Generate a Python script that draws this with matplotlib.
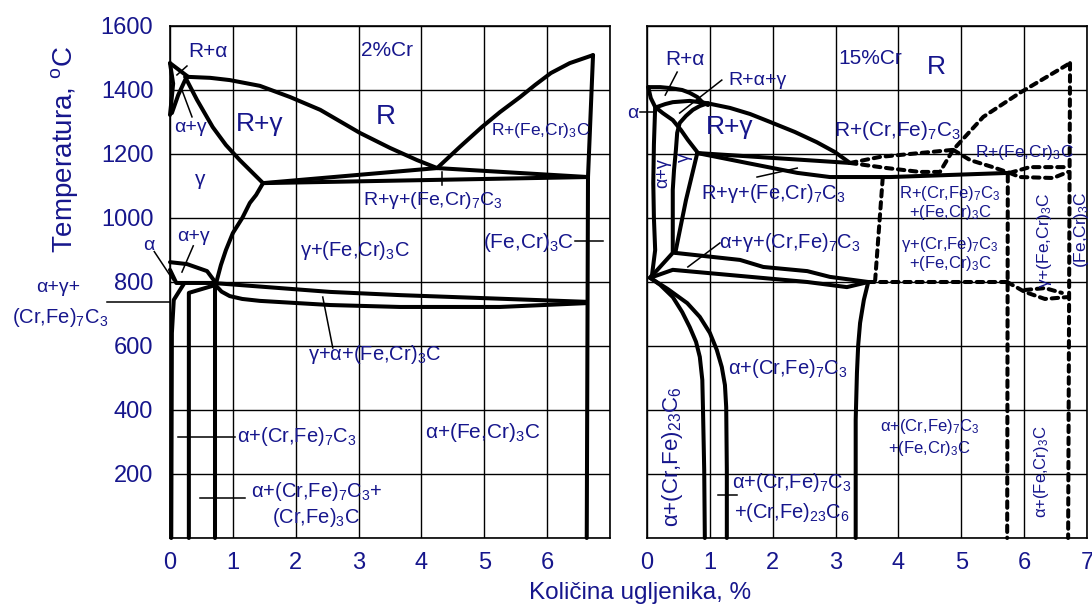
import matplotlib
matplotlib.use('Agg')
import matplotlib.pyplot as plt

plt.rcParams['font.family'] = ['Liberation Sans', 'DejaVu Sans']
plt.rcParams['mathtext.fontset'] = 'custom'
plt.rcParams['mathtext.rm'] = 'Liberation Sans'
plt.rcParams['mathtext.default'] = 'regular'

BLUE = '#16168c'

# ---------- 2% Cr section (left panel) ----------
l_liq_x = [0.29, 0.64, 0.95, 1.43, 1.91, 2.39, 3.02, 3.50, 3.93, 4.25]
l_liq_y = [1441, 1438, 1431, 1413, 1378, 1338, 1266, 1219, 1181, 1156]
l_liq2_x = [4.25, 4.61, 4.96, 5.25, 5.57, 5.81, 6.06, 6.36, 6.73]
l_liq2_y = [1156, 1222, 1284, 1331, 1378, 1416, 1453, 1484, 1509]
l_cem_x = [6.73, 6.65, 6.63]
l_cem_y = [1509, 1128, 0]
l_eut_a_x = [1.48, 4.25]
l_eut_a_y = [1109, 1156]
l_eut_b_x = [1.48, 6.65]
l_eut_b_y = [1109, 1128]
l_eut_c_x = [4.25, 6.65]
l_eut_c_y = [1156, 1128]
l_sol_x = [0.24, 0.43, 0.68, 0.89, 1.11, 1.30, 1.48]
l_sol_y = [1441, 1369, 1284, 1228, 1181, 1144, 1109]
l_d1_x = [0.0, 0.29]
l_d1_y = [1484, 1441]
l_d2_x = [0.0, 0.05, 0.02, 0.0]
l_d2_y = [1484, 1420, 1360, 1322]
l_d3_x = [0.24, 0.13, 0.03]
l_d3_y = [1431, 1384, 1328]
l_acm_x = [1.48, 1.37, 1.27, 1.15, 1.00, 0.89, 0.81, 0.73]
l_acm_y = [1109, 1072, 1047, 1000, 953, 900, 853, 794]
l_a3_x = [0.0, 0.27, 0.59, 0.73]
l_a3_y = [862, 856, 834, 797]
l_a_x = [0.0, 0.10, 0.73]
l_a_y = [838, 797, 797]
l_v1_x = [0.02, 0.03, 0.06, 0.13, 0.22]
l_v1_y = [0, 641, 744, 766, 794]
l_v2_x = [0.30, 0.30, 0.73]
l_v2_y = [0, 766, 791]
l_v3_x = [0.72, 0.72]
l_v3_y = [0, 797]
l_eu_up_x = [0.68, 2.55, 3.66, 6.63]
l_eu_up_y = [797, 769, 759, 738]
l_eu_lo_x = [0.72, 0.82, 0.95, 1.15, 1.43, 2.55, 3.66, 5.25, 6.63]
l_eu_lo_y = [791, 770, 756, 747, 741, 728, 722, 722, 734]

# ---------- 15% Cr section (right panel) ----------
r_liq_x = [0.16, 0.29, 0.41, 0.68, 0.95, 1.32, 1.64, 1.96, 2.35, 2.70, 2.99, 3.23]
r_liq_y = [1347, 1356, 1362, 1366, 1359, 1344, 1325, 1300, 1269, 1237, 1206, 1172]
r_ra_x = [0.02, 0.21, 0.37, 0.56, 0.68, 0.80, 0.88, 0.97]
r_ra_y = [1409, 1409, 1406, 1400, 1391, 1378, 1362, 1353]
r_ag_x = [0.02, 0.06, 0.13, 0.25, 0.41, 0.54, 0.65, 0.80]
r_ag_y = [1409, 1375, 1347, 1328, 1306, 1275, 1244, 1206]
r_al_x = [0.13, 0.11, 0.10, 0.11, 0.13, 0.08, 0.05]
r_al_y = [1347, 1230, 1109, 1000, 900, 822, 813]
r_gl_x = [0.97, 0.84, 0.73, 0.62, 0.52, 0.48, 0.46, 0.43, 0.41, 0.41, 0.05]
r_gl_y = [1359, 1350, 1338, 1319, 1297, 1266, 1213, 1150, 1088, 891, 813]
r_gr_x = [0.80, 0.62, 0.45]
r_gr_y = [1203, 1056, 891]
r_eut_up_x = [0.80, 3.23]
r_eut_up_y = [1203, 1172]
r_eut_lo_x = [0.80, 1.59, 2.39, 2.91, 3.87, 5.77]
r_eut_lo_y = [1203, 1172, 1141, 1128, 1128, 1141]
r_eu_up_x = [0.45, 1.48, 1.85, 2.55, 2.91, 3.52]
r_eu_up_y = [891, 869, 847, 834, 816, 800]
r_eu_lo_x = [0.05, 0.41, 1.48, 2.55, 3.18, 3.52]
r_eu_lo_y = [813, 838, 819, 800, 784, 800]
r_c7_x = [3.52, 3.45, 3.39, 3.36, 3.34, 3.32, 3.32]
r_c7_y = [800, 744, 672, 603, 516, 369, 0]
r_c23a_x = [0.05, 0.21, 0.41, 0.56, 0.68, 0.78, 0.84, 0.88, 0.89, 0.91, 0.92]
r_c23a_y = [813, 791, 753, 706, 659, 613, 566, 494, 409, 213, 0]
r_c23b_x = [0.05, 0.33, 0.64, 0.84, 1.00, 1.11, 1.19, 1.24, 1.26, 1.27, 1.27]
r_c23b_y = [813, 778, 734, 691, 641, 588, 534, 478, 409, 213, 0]

r_dash = [
    ([3.23, 3.71, 4.34, 4.87, 5.35, 5.93, 6.73], [1172, 1191, 1203, 1213, 1316, 1391, 1484]),
    ([3.23, 3.82, 4.34, 4.66, 4.87], [1172, 1156, 1144, 1144, 1213]),
    ([4.87, 5.14, 5.50, 5.77], [1213, 1181, 1159, 1141]),
    ([5.77, 6.09, 6.70], [1141, 1159, 1159]),
    ([5.77, 5.93, 6.46, 6.70], [1141, 1128, 1125, 1144]),
    ([6.73, 6.70], [1484, 0]),
    ([3.75, 3.63], [1125, 806]),
    ([3.52, 5.74], [800, 800]),
    ([5.74, 5.73], [1134, 0]),
    ([5.73, 6.01, 6.33, 6.70], [800, 769, 747, 753]),
    ([6.01, 6.33, 6.60], [775, 781, 766]),
]

x_ticks = [0, 1, 2, 3, 4, 5, 6, 7]
y_ticks = [0, 200, 400, 600, 800, 1000, 1200, 1400, 1600]

LW = 2.9


def phase(ax, x, y, dashed=False):
    if dashed:
        ax.plot(x, y, color='black', lw=LW, ls=(0, (1.6, 1.4)),
                solid_capstyle='butt', dash_capstyle='round', clip_on=False)
    else:
        ax.plot(x, y, color='black', lw=LW, solid_joinstyle='round',
                solid_capstyle='round', clip_on=False)


def label(ax, x, y, s, size=14, rot=0):
    ax.text(x, y, s, color=BLUE, fontsize=size, rotation=rot,
            ha='center', va='center', clip_on=False)


def pointer(ax, x, y):
    ax.plot(x, y, color='black', lw=1.1, clip_on=False)


def setup(ax, xlabels, ylabels):
    ax.set_xlim(0, 7)
    ax.set_ylim(0, 1600)
    ax.set_xticks(x_ticks)
    ax.set_xticklabels(xlabels, fontsize=17, color=BLUE)
    ax.set_yticks(y_ticks)
    ax.set_yticklabels(ylabels, fontsize=17, color=BLUE)
    ax.tick_params(length=0, pad=12)
    ax.tick_params(axis='x', pad=10)
    ax.grid(True, color='black', lw=1.0)
    ax.set_axisbelow(True)
    for sp in ax.spines.values():
        sp.set_linewidth(1.2)


fig = plt.figure(figsize=(10.92, 6.10), dpi=100)
axL = fig.add_axes([170 / 1092, 72 / 610, 440 / 1092, 512 / 610])
axR = fig.add_axes([647 / 1092, 72 / 610, 440 / 1092, 512 / 610])

setup(axL, ['0', '1', '2', '3', '4', '5', '6', ''],
      [''] + [str(v) for v in y_ticks[1:]])
setup(axR, [str(v) for v in x_ticks], [''] * len(y_ticks))

# left panel lines
for xs, ys in [(l_liq_x, l_liq_y), (l_liq2_x, l_liq2_y), (l_cem_x, l_cem_y),
               (l_eut_a_x, l_eut_a_y), (l_eut_b_x, l_eut_b_y), (l_eut_c_x, l_eut_c_y),
               (l_sol_x, l_sol_y), (l_d1_x, l_d1_y), (l_d2_x, l_d2_y), (l_d3_x, l_d3_y),
               (l_acm_x, l_acm_y), (l_a3_x, l_a3_y), (l_a_x, l_a_y),
               (l_v1_x, l_v1_y), (l_v2_x, l_v2_y), (l_v3_x, l_v3_y),
               (l_eu_up_x, l_eu_up_y), (l_eu_lo_x, l_eu_lo_y)]:
    phase(axL, xs, ys)

# right panel lines
for xs, ys in [(r_liq_x, r_liq_y), (r_ra_x, r_ra_y), (r_ag_x, r_ag_y),
               (r_al_x, r_al_y), (r_gl_x, r_gl_y), (r_gr_x, r_gr_y),
               (r_eut_up_x, r_eut_up_y), (r_eut_lo_x, r_eut_lo_y),
               (r_eu_up_x, r_eu_up_y), (r_eu_lo_x, r_eu_lo_y),
               (r_c7_x, r_c7_y), (r_c23a_x, r_c23a_y), (r_c23b_x, r_c23b_y)]:
    phase(axR, xs, ys)
for xs, ys in r_dash:
    phase(axR, xs, ys, dashed=True)

# left panel labels
label(axL, 0.60, 1519, 'R+α', 15)
pointer(axL, [0.27, 0.11], [1475, 1447])
label(axL, 0.32, 1284, 'α+γ', 14)
pointer(axL, [0.35, 0.19], [1316, 1400])
label(axL, 1.43, 1294, 'R+γ', 19)
label(axL, 0.48, 1119, 'γ', 15)
label(axL, -0.33, 915, 'α', 14)
pointer(axL, [-0.25, 0.05], [895, 806])
label(axL, 0.37, 941, 'α+γ', 14)
pointer(axL, [0.37, 0.19], [913, 831])
label(axL, -1.78, 784, 'α+γ+', 14)
label(axL, -1.75, 688, '(Cr,Fe)$_7$C$_3$', 14.5)
pointer(axL, [-1.00, 0.0], [738, 738])
label(axL, 3.45, 1525, '2%Cr', 15)
label(axL, 3.44, 1316, 'R', 20)
label(axL, 5.89, 1275, 'R+(Fe,Cr)$_3$C', 12.5)
label(axL, 4.18, 1056, 'R+γ+(Fe,Cr)$_7$C$_3$', 14)
pointer(axL, [4.33, 4.33], [1144, 1103])
label(axL, 2.94, 900, 'γ+(Fe,Cr)$_3$C', 14.5)
label(axL, 5.70, 922, '(Fe,Cr)$_3$C', 15)
pointer(axL, [6.44, 6.89], [928, 928])
label(axL, 3.26, 575, 'γ+α+(Fe,Cr)$_3$C', 14.5)
pointer(axL, [2.43, 2.59], [753, 594])
label(axL, 2.02, 316, 'α+(Cr,Fe)$_7$C$_3$', 14.5)
pointer(axL, [0.13, 1.03], [316, 316])
label(axL, 2.34, 144, 'α+(Cr,Fe)$_7$C$_3$+', 14.5)
label(axL, 2.32, 63, '(Cr,Fe)$_3$C', 14.5)
pointer(axL, [0.48, 1.19], [125, 125])
label(axL, 4.98, 331, 'α+(Fe,Cr)$_3$C', 15)

# right panel labels
label(axR, -0.22, 1328, 'α', 14)
pointer(axR, [-0.11, 0.13], [1331, 1331])
label(axR, 0.60, 1494, 'R+α', 15)
pointer(axR, [0.48, 0.29], [1456, 1384])
label(axR, 1.75, 1431, 'R+α+γ', 14)
pointer(axR, [1.19, 0.52], [1431, 1328])
label(axR, 1.32, 1284, 'R+γ', 19)
label(axR, 3.55, 1500, '15%Cr', 15)
label(axR, 4.61, 1472, 'R', 19)
label(axR, 3.99, 1275, 'R+(Cr,Fe)$_7$C$_3$', 15)
label(axR, 6.01, 1206, 'R+(Fe,Cr)$_3$C', 12.5)
label(axR, 2.00, 1078, 'R+γ+(Fe,Cr)$_7$C$_3$', 14.5)
pointer(axR, [1.75, 2.39], [1128, 1156])
label(axR, 0.60, 1188, 'γ', 13, 90)
label(axR, 0.25, 1140, 'α+γ', 13, 90)
label(axR, 2.27, 922, 'α+γ+(Cr,Fe)$_7$C$_3$', 14.5)
pointer(axR, [1.16, 0.65], [922, 847])
label(axR, 4.82, 1078, 'R+(Cr,Fe)$_7$C$_3$', 12)
label(axR, 4.82, 1016, '+(Fe,Cr)$_3$C', 12)
label(axR, 4.82, 916, 'γ+(Cr,Fe)$_7$C$_3$', 12)
label(axR, 4.82, 859, '+(Fe,Cr)$_3$C', 12)
label(axR, 6.33, 931, 'γ+(Fe,Cr)$_3$C', 12.5, 90)
label(axR, 6.92, 963, '(Fe,Cr)$_3$C', 12.5, 90)
label(axR, 2.24, 531, 'α+(Cr,Fe)$_7$C$_3$', 14.5)
label(axR, 0.40, 253, 'α+(Cr,Fe)$_{23}$C$_6$', 16, 90)
label(axR, 2.31, 172, 'α+(Cr,Fe)$_7$C$_3$', 14.5)
label(axR, 2.31, 81, '+(Cr,Fe)$_{23}$C$_6$', 14.5)
pointer(axR, [1.13, 1.43], [134, 134])
label(axR, 4.50, 347, 'α+(Cr,Fe)$_7$C$_3$', 12)
label(axR, 4.50, 281, '+(Fe,Cr)$_3$C', 12)
label(axR, 6.28, 206, 'α+(Fe,Cr)$_3$C', 12, 90)

fig.text(65 / 1092, 1 - 150 / 610, 'Temperatura, $^{o}$C', rotation=90,
         ha='center', va='center', fontsize=20, color=BLUE)
fig.text(640 / 1092, 1 - 593 / 610, 'Količina ugljenika, %',
         ha='center', va='center', fontsize=17.5, color=BLUE)

fig.savefig('out.png', dpi=100)
